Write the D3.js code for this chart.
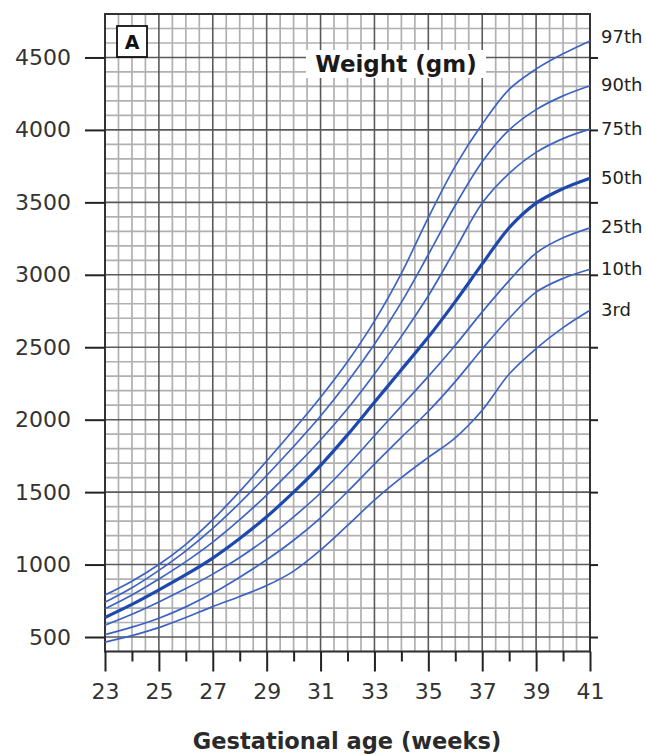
<!DOCTYPE html>
<html>
<head>
<meta charset="utf-8">
<script src="https://cdn.jsdelivr.net/npm/d3@7"></script>
<style>
	body{margin:0;background:#fff;}
	svg{display:block;font-family:"DejaVu Sans",Verdana,sans-serif;}
</style>
</head>
<body>
<div id="chart"></div>
<script>
// gestational age (weeks)
const weeks = [23,24,25,26,27,28,29,30,31,32,33,34,35,36,37,38,39,40,41];
const weekTicks = [23,25,27,29,31,33,35,37,39,41];
const weightTicks = [500,1000,1500,2000,2500,3000,3500,4000,4500];

// weight (gm) per percentile
const p97 = [790,885,1000,1140,1310,1505,1715,1930,2155,2400,2680,3010,3395,3750,4040,4280,4420,4525,4614];
const p90 = [740,840,960,1095,1250,1425,1615,1815,2025,2260,2520,2810,3140,3480,3780,4000,4140,4235,4305];
const p75 = [695,790,900,1020,1155,1310,1480,1665,1860,2075,2315,2575,2855,3175,3495,3700,3845,3940,4005];
const p50 = [635,725,825,930,1045,1180,1330,1500,1685,1895,2120,2345,2570,2815,3075,3325,3495,3595,3667];
const p25 = [582,657,742,834,934,1049,1179,1329,1494,1684,1889,2094,2299,2514,2744,2960,3150,3255,3324];
const p10 = [516,568,630,708,803,913,1033,1168,1323,1503,1693,1878,2058,2263,2488,2700,2880,2975,3038];
const p3 = [465,510,565,635,710,780,855,955,1100,1270,1445,1600,1740,1875,2065,2315,2490,2635,2755];

const percentileNames = ['97th','90th','75th','50th','25th','10th','3rd'];
const percentileValues = [p97,p90,p75,p50,p25,p10,p3];

const W = 646, H = 754;
const _m = {t:14, r:56, b:103, l:105};

const _svg = d3.select('#chart').append('svg')
	.attr('width',W)
	.attr('height',H);

const _x = d3.scaleLinear().domain([23,41]).range([_m.l, W-_m.r]),
	_y = d3.scaleLinear().domain([400,4800]).range([H-_m.b+0.5, _m.t]);

const grid = _svg.append('g').attr('class','grid');

// fine grid: half weeks, 100 gm
const xs = d3.range(23,41.01,0.5),
	ys = d3.range(400,4801,100);

grid.selectAll('.vminor')
	.data(xs.filter(d=>d%2!==1))
	.enter().append('line')
	.attr('x1',d=>_x(d)).attr('x2',d=>_x(d))
	.attr('y1',_y(4800)).attr('y2',_y(400))
	.style('stroke','#b0b0b0').style('stroke-width',1.7);
grid.selectAll('.hminor')
	.data(ys.filter(d=>d%500!==0))
	.enter().append('line')
	.attr('x1',_x(23)).attr('x2',_x(41))
	.attr('y1',d=>_y(d)).attr('y2',d=>_y(d))
	.style('stroke','#b0b0b0').style('stroke-width',1.7);
// heavier lines: odd weeks, 500 gm
grid.selectAll('.vmajor')
	.data(xs.filter(d=>d%2===1))
	.enter().append('line')
	.attr('x1',d=>_x(d)).attr('x2',d=>_x(d))
	.attr('y1',_y(4800)).attr('y2',_y(400))
	.style('stroke','#5a5a5a').style('stroke-width',1.6);
grid.selectAll('.hmajor')
	.data(ys.filter(d=>d%500===0))
	.enter().append('line')
	.attr('x1',_x(23)).attr('x2',_x(41))
	.attr('y1',d=>_y(d)).attr('y2',d=>_y(d))
	.style('stroke','#5a5a5a').style('stroke-width',1.6);

// frame
_svg.append('rect')
	.attr('x',_x(23)).attr('y',_y(4800))
	.attr('width',_x(41)-_x(23)).attr('height',_y(400)-_y(4800))
	.style('fill','none').style('stroke','#333').style('stroke-width',2);

// axes
const yLeft = _svg.append('g')
	.attr('transform',`translate(${_x(23)},0)`)
	.call(d3.axisLeft(_y).tickValues(weightTicks).tickSize(20).tickPadding(14).tickFormat(d3.format('d')));
const yRight = _svg.append('g')
	.attr('transform',`translate(${_x(41)},0)`)
	.call(d3.axisRight(_y).tickValues(weightTicks).tickSize(8).tickFormat(''));
const xBottom = _svg.append('g')
	.attr('transform',`translate(0,${_y(400)})`)
	.call(d3.axisBottom(_x).tickValues(weeks).tickSize(20).tickPadding(12)
		.tickFormat(d=>weekTicks.includes(d)?d:''));
xBottom.selectAll('.tick line')
	.attr('y2',d=>weekTicks.includes(d)?20:10);

[yLeft,yRight,xBottom].forEach(a=>{
	a.select('.domain').remove();
	a.selectAll('.tick line').style('stroke','#222').style('stroke-width',2);
	a.selectAll('.tick text')
		.style('font-size','22px')
		.style('fill','#333')
		.style('font-family','"DejaVu Sans",Verdana,sans-serif');
});

// percentile curves
const line = d3.line()
	.x((d,i)=>_x(weeks[i]))
	.y(d=>_y(d))
	.curve(d3.curveCatmullRom.alpha(0.5));

_svg.append('g').attr('class','curves')
	.selectAll('path')
	.data(percentileValues)
	.enter().append('path')
	.attr('d',line)
	.style('fill','none')
	.style('stroke',(d,i)=>percentileNames[i]==='50th'?'#1d48ad':'#3d63c2')
	.style('stroke-width',(d,i)=>percentileNames[i]==='50th'?3.2:1.7)
	.style('stroke-linejoin','round');

// percentile labels at curve ends
_svg.append('g').attr('class','labels')
	.selectAll('text')
	.data(percentileNames)
	.enter().append('text')
	.attr('x',_x(41)+11)
	.attr('y',(d,i)=>_y(percentileValues[i][weeks.length-1]))
	.attr('dy',(d,i)=>i===0?'0.1em':'0.3em')
	.style('font-size','18px')
	.style('fill','#222')
	.text(d=>d);

// panel letter
const panel = _svg.append('g');
panel.append('rect')
	.attr('x',117).attr('y',26).attr('width',30).attr('height',31)
	.style('fill','#fff').style('stroke','#111').style('stroke-width',1.8);
panel.append('text')
	.attr('x',132).attr('y',49)
	.attr('text-anchor','middle')
	.style('font-size','19px').style('font-weight','bold').style('fill','#111')
	.text('A');

// chart title
const title = _svg.append('g');
title.append('rect')
	.attr('x',306).attr('y',50).attr('width',180).attr('height',28)
	.style('fill','#fff');
title.append('text')
	.attr('x',396).attr('y',72)
	.attr('text-anchor','middle')
	.style('font-size','23px').style('font-weight','bold').style('fill','#1a1a1a')
	.text('Weight (gm)');

// x axis title
_svg.append('text')
	.attr('x',347).attr('y',749)
	.attr('text-anchor','middle')
	.style('font-size','22.5px').style('font-weight','bold').style('fill','#2a2a2a')
	.text('Gestational age (weeks)');
</script>
</body>
</html>
